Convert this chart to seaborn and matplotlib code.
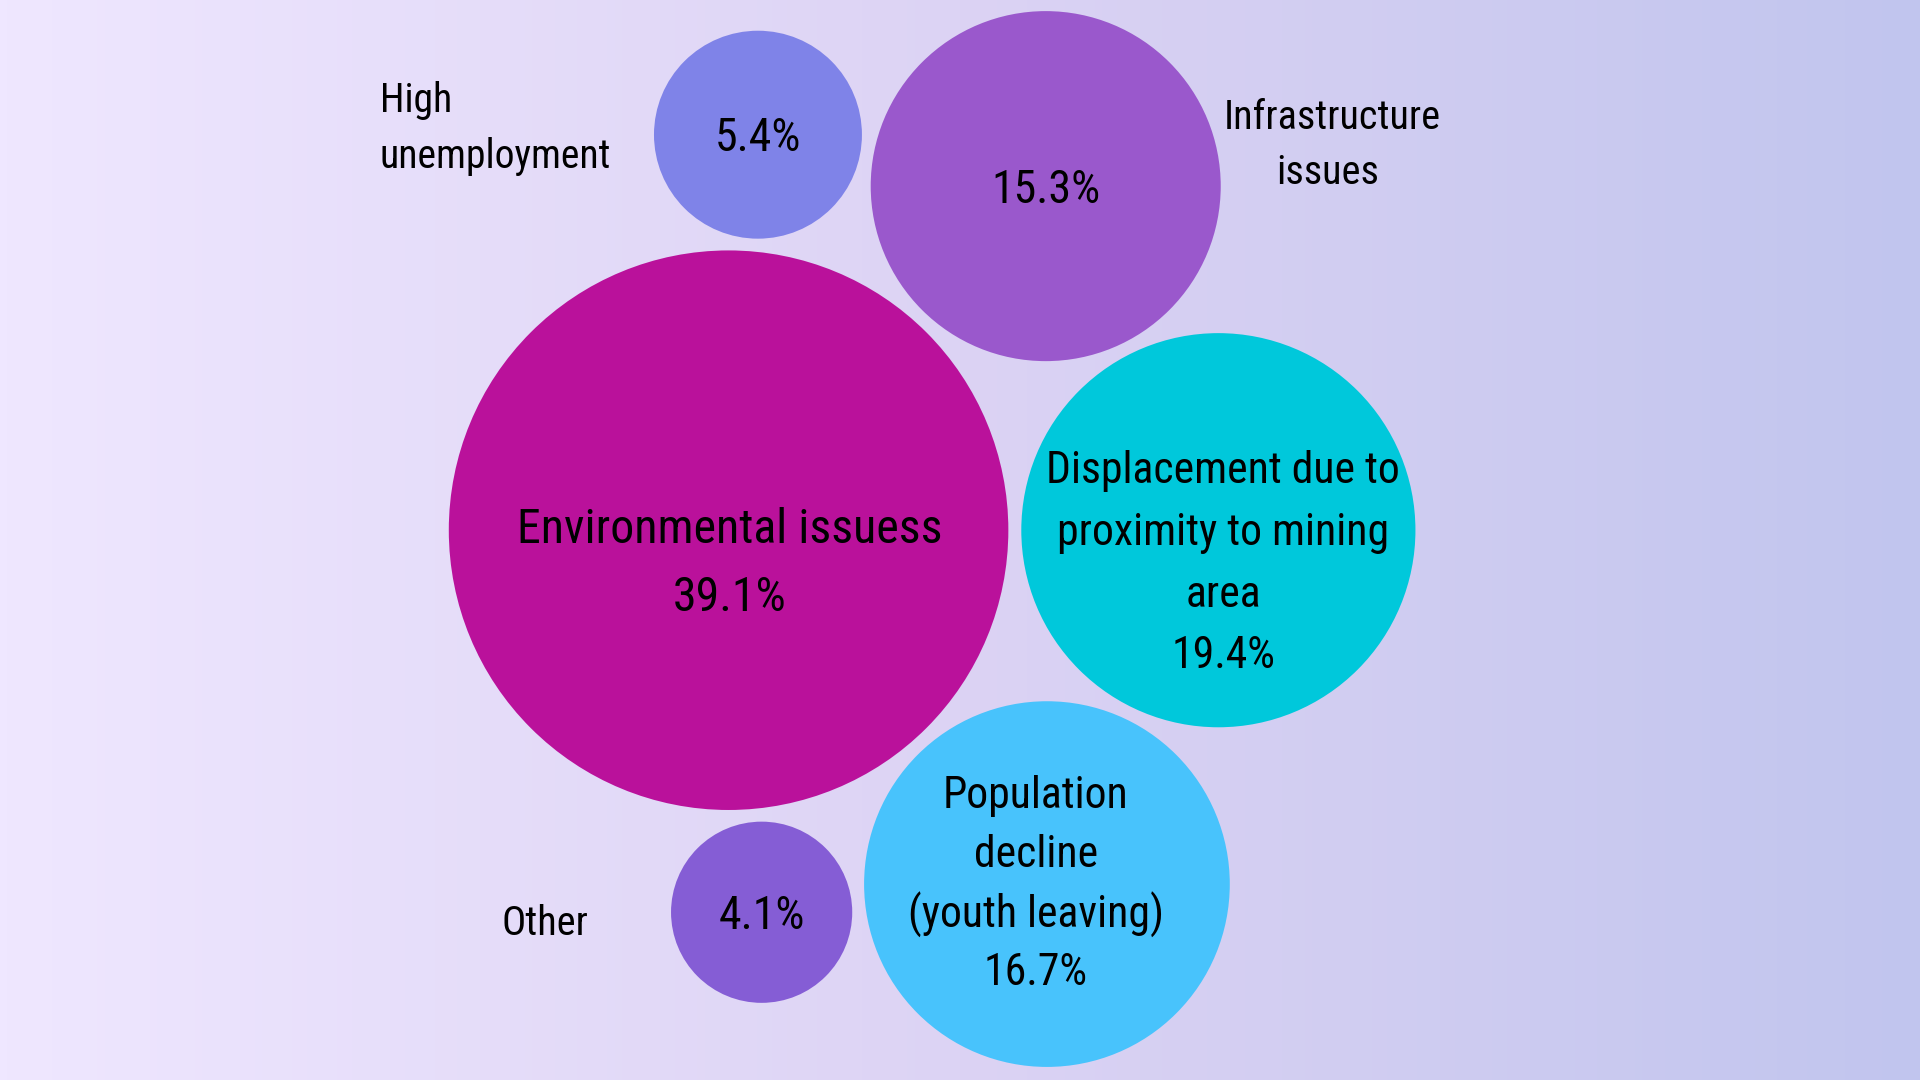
import numpy as np
import pandas as pd
import seaborn as sns
import matplotlib.pyplot as plt
from matplotlib.colors import LinearSegmentedColormap

# Dados do gráfico
categories = ["Environmental issuess", "High unemployment", "Infrastructure issues",
              "Displacement due to proximity to mining area",
              "Population decline (youth leaving)", "Other"]
values = [39.1, 5.4, 15.3, 19.4, 16.7, 4.1]

# Layout (centros das bolhas, em pixels da imagem 1568x882)
x_pos = [595, 619, 854, 995, 855, 622]
y_pos = [433, 110, 152, 433, 722, 745]
colors = ["#BA119B", "#7F83E8", "#9A58CC", "#00C8DB", "#48C3FC", "#855DD5"]

W, H = 1568, 882
k = 36.54  # raio = k * sqrt(valor)

sns.set_theme(style="white")
plt.rcParams["font.family"] = ["Roboto Condensed", "Roboto", "DejaVu Sans"]

fig = plt.figure(figsize=(19.2, 10.8), dpi=100)
ax = fig.add_axes([0, 0, 1, 1])
ax.set_xlim(0, W)
ax.set_ylim(H, 0)
ax.axis("off")

# Fundo em degradê
grad = LinearSegmentedColormap.from_list("bg", ["#EFE7FF", "#DCD3F4", "#C1C5EE"])
ax.imshow(np.linspace(0, 1, 256).reshape(1, -1), cmap=grad, aspect="auto",
          extent=[0, W, H, 0], zorder=0)

df = pd.DataFrame({"cat": categories, "val": values, "x": x_pos, "y": y_pos})
pt_per_unit = 19.2 * 72 / W
sizes = {c: (2 * k * np.sqrt(v) * pt_per_unit) ** 2 for c, v in zip(categories, values)}
palette = dict(zip(categories, colors))

sns.scatterplot(data=df, x="x", y="y", hue="cat", size="cat", palette=palette,
                sizes=sizes, linewidth=0, alpha=1, legend=False, ax=ax, zorder=2)
ax.set_xlim(0, W)
ax.set_ylim(H, 0)

txt = dict(color="black", ha="center", va="center", zorder=3)
dy = 2

# Rótulos dentro das bolhas
ax.text(596, 431 + dy, "Environmental issuess", fontsize=34.5, **txt)
ax.text(596, 486 + dy, f"{values[0]}%", fontsize=34.5, **txt)
ax.text(619, 111 + dy, f"{values[1]}%", fontsize=33, **txt)
ax.text(854, 153 + dy, f"{values[2]}%", fontsize=33, **txt)
for yy, s in zip([383, 433, 484, 534],
                 ["Displacement due to", "proximity to mining", "area", f"{values[3]}%"]):
    ax.text(999, yy + dy, s, fontsize=31.5, **txt)
for yy, s in zip([648, 696, 745, 793],
                 ["Population", "decline", "(youth leaving)", f"{values[4]}%"]):
    ax.text(846, yy + dy, s, fontsize=31.5, **txt)
ax.text(622, 746 + dy, f"{values[5]}%", fontsize=33, **txt)

# Rótulos externos
ax.text(310, 80 + dy, "High", fontsize=28.5, color="black", ha="left", va="center", zorder=3)
ax.text(310, 126 + dy, "unemployment", fontsize=28.5, color="black", ha="left", va="center", zorder=3)
ax.text(1088, 94 + dy, "Infrastructure", fontsize=29, **txt)
ax.text(1084, 139 + dy, "issues", fontsize=29, **txt)
ax.text(445, 752 + dy, "Other", fontsize=29, **txt)

fig.savefig("out.png", dpi=100)
